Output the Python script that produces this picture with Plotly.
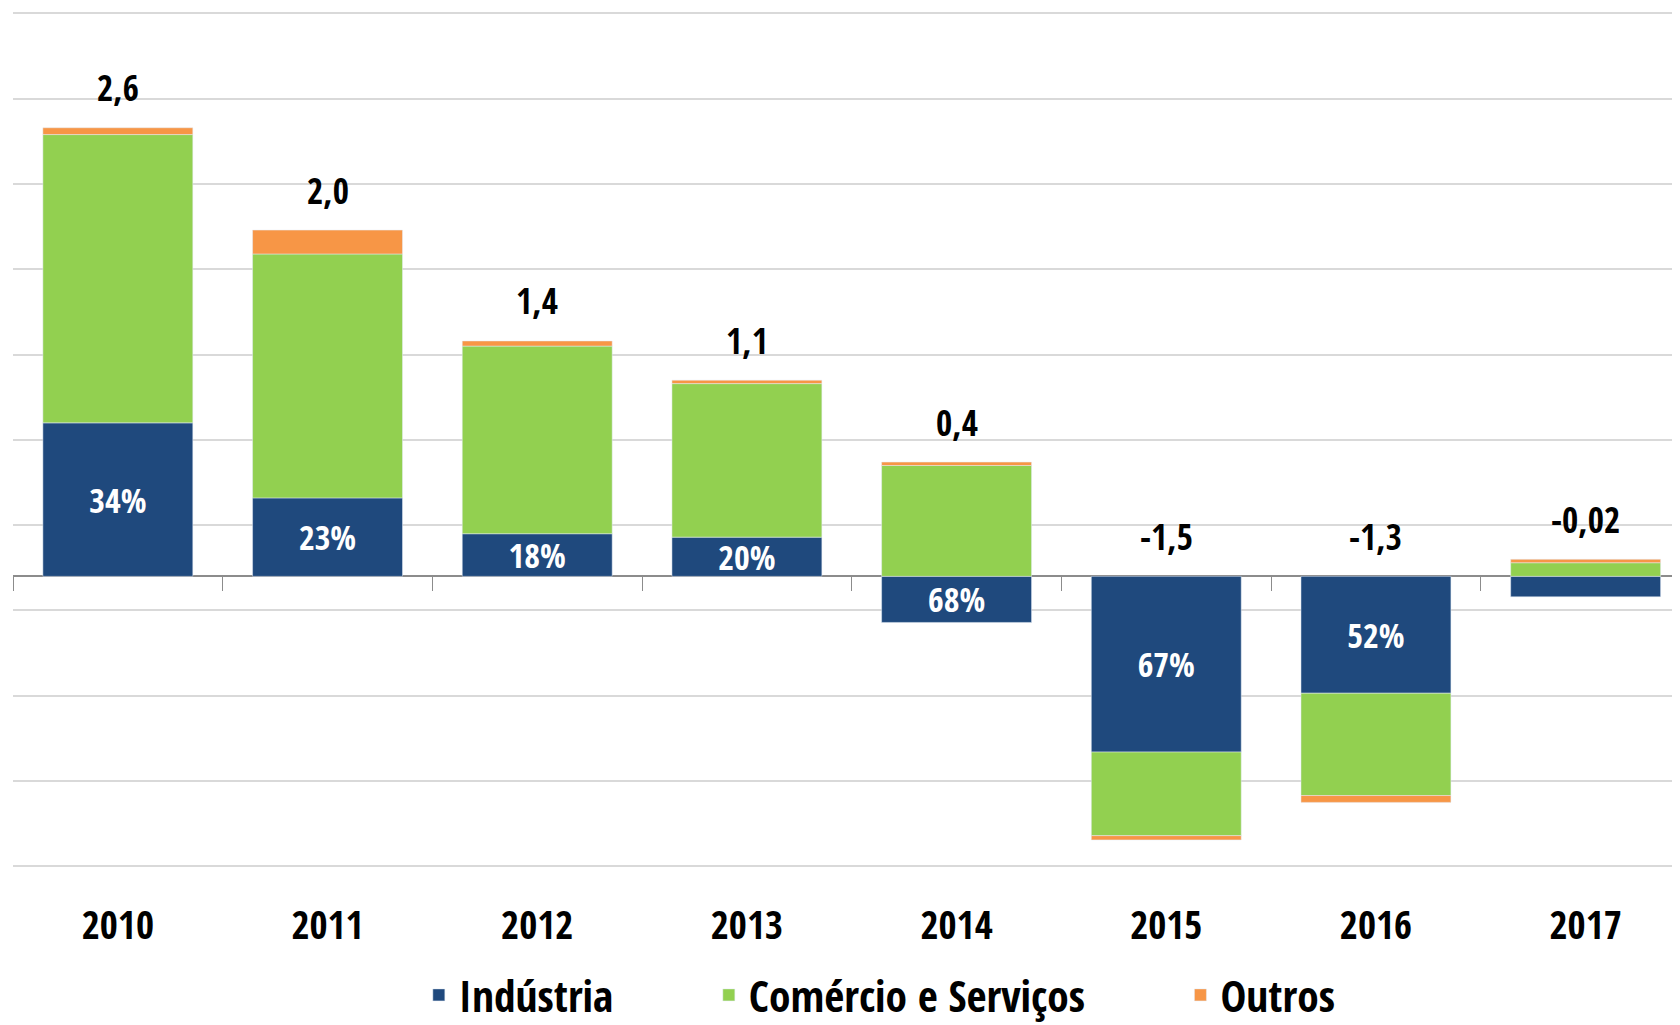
import plotly.graph_objects as go

years = ["2010", "2011", "2012", "2013", "2014", "2015", "2016", "2017"]
industria = [0.90, 0.46, 0.25, 0.23, -0.27, -1.03, -0.685, -0.12]
comercio = [1.69, 1.43, 1.10, 0.90, 0.65, -0.49, -0.60, 0.08]
outros = [0.04, 0.14, 0.03, 0.02, 0.02, -0.025, -0.04, 0.02]
pct_labels = ["34%", "23%", "18%", "20%", "68%", "67%", "52%", ""]
total_labels = ["2,6", "2,0", "1,4", "1,1", "0,4", "-1,5", "-1,3", "-0,02"]

FONT = "Open Sans Condensed, Roboto Condensed, DejaVu Sans Condensed, sans-serif"
C_IND = "#1F497D"
C_COM = "#92D050"
C_OUT = "#F79646"

Y_MIN, Y_MAX = -1.78, 3.332
NB = "\u00a0"

fig = go.Figure()
fig.add_trace(go.Bar(
    x=years, y=industria, name="Indústria" + NB * 8, marker_color=C_IND,
    text=pct_labels, textposition="inside", insidetextanchor="middle",
    constraintext="none", textangle=0,
    textfont=dict(family=FONT, size=34, color="white", weight="bold"),
))
fig.add_trace(go.Bar(x=years, y=comercio, name="Comércio e Serviços" + NB * 8,
                     marker_color=C_COM))
fig.add_trace(go.Bar(x=years, y=outros, name="Outros", marker_color=C_OUT))

# invisible trace on the axis that carries the tick marks at the zero line
fig.add_trace(go.Scatter(x=years, y=[0] * len(years), xaxis="x2", mode="markers",
                         marker=dict(opacity=0), showlegend=False, hoverinfo="skip"))

# total labels above the positive part of each stack
for i, yr in enumerate(years):
    pos_top = sum(v for v in (industria[i], comercio[i], outros[i]) if v > 0)
    fig.add_annotation(x=i, y=pos_top, xref="x", yref="y", text=total_labels[i],
                       showarrow=False, yanchor="middle", yshift=40,
                       font=dict(family=FONT, size=35, color="black", weight="bold"))

zero_pos = (0 - Y_MIN) / (Y_MAX - Y_MIN)

fig.update_layout(
    width=1672, height=1017,
    margin=dict(l=5, r=0, t=0, b=145, autoexpand=False),
    barmode="relative", bargap=0.285,
    plot_bgcolor="white", paper_bgcolor="white",
    font=dict(family=FONT, color="black"),
    xaxis=dict(type="category", range=[-0.5, 7.45], showgrid=False, showline=False,
               ticks="", tickfont=dict(family=FONT, size=39, color="black", weight="bold"),
               ticklabelstandoff=19),
    xaxis2=dict(type="category", overlaying="x", anchor="free", position=zero_pos,
                side="bottom", range=[-0.5, 7.45], categoryarray=years,
                categoryorder="array", showgrid=False, showline=False,
                showticklabels=False, ticks="outside", tickson="boundaries",
                ticklen=14, tickcolor="#8c8c8c", tickwidth=1.3),
    yaxis=dict(range=[Y_MIN, Y_MAX], showticklabels=False, ticks="",
               tick0=0.3, dtick=0.5, gridcolor="#d9d9d9", gridwidth=1.5,
               zeroline=True, zerolinecolor="#8c8c8c", zerolinewidth=1.5),
    legend=dict(orientation="h", x=0.52, xanchor="center", y=-0.132, yanchor="middle",
                font=dict(family=FONT, size=43.5, color="black", weight="bold"),
                bgcolor="rgba(0,0,0,0)"),
    showlegend=True,
)

fig.write_html("out.html")
